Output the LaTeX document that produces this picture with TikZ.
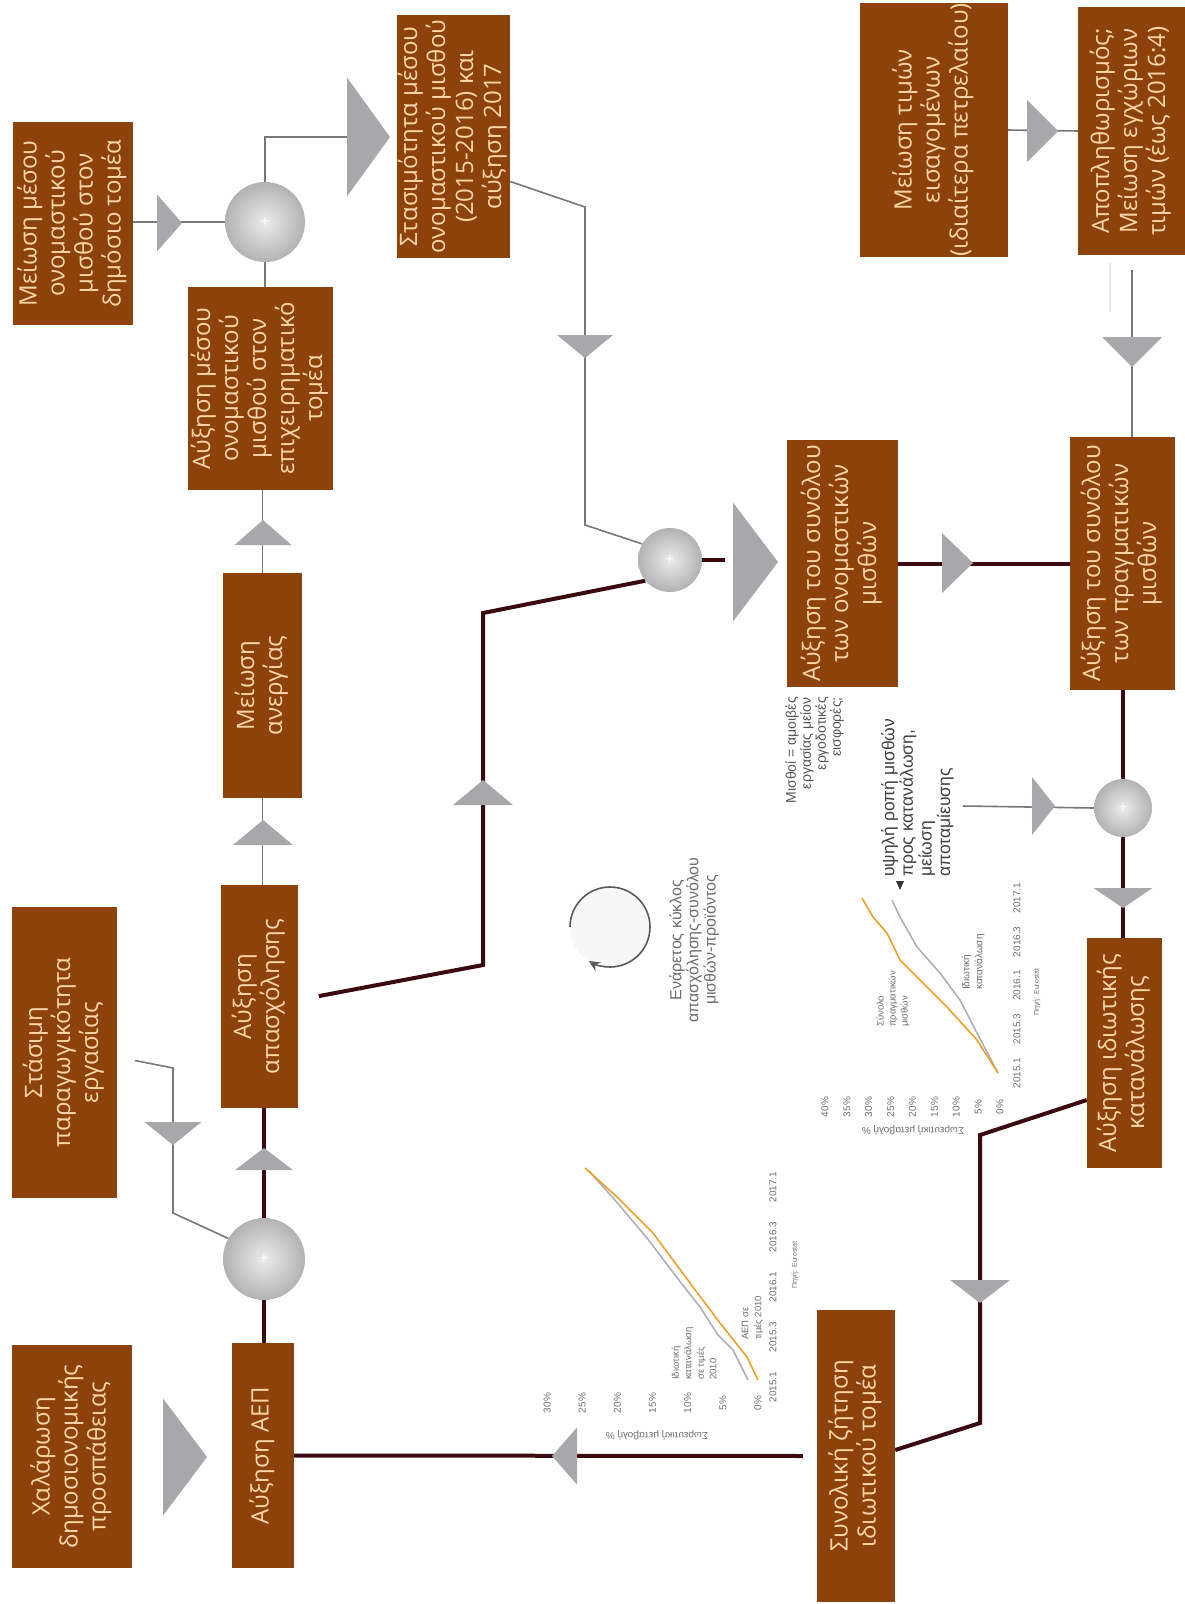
\documentclass[tikz,border=0pt]{standalone}
\usepackage{fontspec}
\usepackage{graphicx}
\setmainfont{Open Sans}
\newfontfamily\notefont{Liberation Sans}
\usetikzlibrary{shapes.geometric,positioning,calc,arrows.meta}
\pgfdeclarelayer{bg}
\pgfsetlayers{bg,main}

\definecolor{boxbrown}{RGB}{140,66,10}
\definecolor{boxtext}{RGB}{252,214,168}
\definecolor{trigray}{RGB}{168,168,170}
\definecolor{linegray}{RGB}{120,120,124}
\definecolor{linedark}{RGB}{58,10,16}
\definecolor{chartorange}{RGB}{240,160,40}
\definecolor{chartgray}{RGB}{172,176,186}
\definecolor{notegray}{RGB}{85,85,85}

\tikzset{
  box/.style={rectangle, fill=boxbrown, text=boxtext, inner sep=0pt,
    font=\fontsize{24}{28}\selectfont},
  sum/.style={circle, inner sep=0pt, shading=radial, inner color=gray!15,
    outer color=gray!60, text=white, font=\fontsize{15}{15}\selectfont},
  tri/.style={isosceles triangle, isosceles triangle stretches, inner sep=0pt,
    outer sep=0pt, fill=trigray, anchor=apex},
  thinline/.style={draw=linegray, line width=1.6pt},
  thickline/.style={draw=linedark, line width=4pt},
  annot/.style={font=\notefont\fontsize{14}{15}\selectfont, text=notegray, inner sep=0pt},
  chartlabel/.style={font=\notefont\fontsize{10}{12}\selectfont, text=gray!85!black, inner sep=0pt},
  wiggle/.style={line width=1.6pt, line join=round},
}
\newcommand{\turned}[2][c]{\rotatebox{90}{\begin{tabular}{@{}#1@{}}#2\end{tabular}}}

\begin{document}
\begin{tikzpicture}[x=1pt, y=-1pt]
\useasboundingbox (0,0) rectangle (1185,1604);

% boxes
\node[box, minimum width=120pt, minimum height=203pt] (pubwage) at (73,223.5) {\turned{Μείωση μέσου\\ονομαστικού\\μισθού στον\\δημόσιο τομέα}};
\node[box, minimum width=145pt, minimum height=203pt] (bizwage) at (260.5,388.5) {\turned{Αύξηση μέσου\\ονομαστικού\\μισθού στον\\επιχειρηματικό\\τομέα}};
\node[box, minimum width=113pt, minimum height=243pt] (stagn) at (453.5,136.5) {\turned{Στασιμότητα μέσου\\ονομαστικού μισθού\\(2015-2016) και\\αύξηση 2017}};
\node[box, minimum width=79pt, minimum height=225pt] (unemp) at (262.5,685.5) {\turned{Μείωση\\ανεργίας}};
\node[box, minimum width=77pt, minimum height=223pt] (employ) at (259.5,996.5) {\turned{Αύξηση\\απασχόλησης}};
\node[box, minimum width=105pt, minimum height=291pt] (prod) at (64.5,1052.5) {\turned{Στάσιμη\\παραγωγικότητα\\εργασίας}};
\node[box, minimum width=62pt, minimum height=225pt] (gdp) at (263,1455.5) {\turned{Αύξηση ΑΕΠ}};
\node[box, minimum width=120pt, minimum height=223pt] (fiscal) at (72,1456.5) {\turned{Χαλάρωση\\δημοσιονομικής\\προσπάθειας}};
\node[box, minimum width=78pt, minimum height=292pt] (demand) at (856,1456) {\turned{Συνολική ζήτηση\\ιδιωτικού τομέα}};
\node[box, minimum width=75pt, minimum height=230pt] (consum) at (1124.5,1053) {\turned{Αύξηση ιδιωτικής\\κατανάλωσης}};
\node[box, minimum width=105pt, minimum height=253pt] (realw) at (1122.5,563.5) {\turned{Αύξηση του συνόλου\\των πραγματικών\\μισθών}};
\node[box, minimum width=111pt, minimum height=247pt] (nomw) at (842.5,563.5) {\turned{Αύξηση του συνόλου\\των ονομαστικών\\μισθών}};
\node[box, minimum width=148pt, minimum height=250pt] (imports) at (934,130) {\turned{Μείωση τιμών\\εισαγομένων\\(ιδιαίτερα πετρελαίου)}};
\node[box, minimum width=107pt, minimum height=248pt] (deflat) at (1131.5,131) {\turned{Αποπληθωρισμός;\\Μείωση εγχώριων\\τιμών (έως 2016:4)}};

% summing points
\node[sum, minimum size=80pt] (s1) at (265,222) {+};
\node[sum, minimum size=64pt] (s2) at (670,560) {+};
\node[sum, minimum size=82pt] (s3) at (264,1259) {+};
\node[sum, minimum size=58pt] (s4) at (1123,808) {+};

% triangles (width = base, height = length to apex)
\node[tri, minimum height=25pt, minimum width=57pt] (t1) at (182,223) {};
\node[tri, minimum height=43pt, minimum width=119pt] (t2) at (390,137) {};
\node[tri, rotate=-90, minimum height=23pt, minimum width=56pt] (t3) at (585,358) {};
\node[tri, minimum height=45pt, minimum width=119pt] (t4) at (778,562) {};
\node[tri, rotate=90, minimum height=25pt, minimum width=60pt] (t5) at (483,780) {};
\node[tri, rotate=90, minimum height=25pt, minimum width=57pt] (t6) at (263,520) {};
\node[tri, rotate=90, minimum height=25pt, minimum width=60pt] (t7) at (263,820) {};
\node[tri, rotate=90, minimum height=22pt, minimum width=58pt] (t8) at (264,1148) {};
\node[tri, rotate=-90, minimum height=23pt, minimum width=57pt] (t9) at (173,1145) {};
\node[tri, minimum height=44pt, minimum width=117pt] (t10) at (207,1457) {};
\node[tri, rotate=180, minimum height=25pt, minimum width=57pt] (t11) at (552,1456) {};
\node[tri, rotate=-90, minimum height=23pt, minimum width=60pt] (t12) at (980,1303) {};
\node[tri, rotate=-90, minimum height=20pt, minimum width=59pt] (t13) at (1123,908) {};
\node[tri, minimum height=23pt, minimum width=58pt] (t14) at (1055,806) {};
\node[tri, minimum height=31pt, minimum width=60pt] (t15) at (973,563) {};
\node[tri, minimum height=31pt, minimum width=62pt] (t16) at (1058,131) {};
\node[tri, rotate=-90, minimum height=30pt, minimum width=60pt] (t17) at (1132,367) {};

% notes
\node[annot, anchor=north west] (wagenote) at (785,697) {\turned[r]{Μισθοί = αμοιβές\\εργασίας μείον\\εργοδοτικές\\εισφορές;}};
\node[annot, anchor=south west, text=black!75, font=\notefont\fontsize{17.5}{18}\selectfont] (propnote) at (881,877) {\turned[l]{υψηλή ροπή μισθών\\προς κατανάλωση,\\μείωση\\αποταμίευσης}};
\coordinate (propout) at (963,806);
\fill[black!80] (896,881) -- (904,881) -- (900,890) -- cycle;

% virtuous cycle
\fill[gray!6] (610,927) circle[radius=40pt];
\draw[gray!70!black, line width=1.6pt, -{Stealth[length=11pt,width=10pt]}] (570,927) arc[start angle=180, end angle=-122, radius=40pt];
\node[annot, text=gray!85!black, font=\notefont\fontsize{16}{17}\selectfont] (cycle) at (695,940) {\turned{Ενάρετος κύκλος\\απασχόλησης-συνόλου\\μισθών-προϊόντος}};

% chart: wages and consumption
\foreach \v in {0,5,...,40}
  \node[chartlabel, rotate=90] at ({1000-4.375*\v},1107) {\v\%};
\foreach \q/\lab in {0/2015.1,1/2015.3,2/2016.1,3/2016.3,4/2017.1}
  \node[chartlabel, rotate=90] at (1017,{1073-43.75*\q}) {\lab};
\node[chartlabel, rotate=180] at (913,1130) {Σωρευτική μεταβολή \%};
\node[chartlabel, rotate=90, font=\notefont\fontsize{7}{8}\selectfont] at (1037,992) {Πηγή: Eurostat};
\draw[wiggle, chartgray] (998,1073) -- (977,1033) -- (960,1000) -- (940,973) -- (917,947) -- (900,917) -- (892,900);
\draw[wiggle, chartorange] (998,1073) -- (977,1040) -- (947,1007) -- (917,977) -- (900,960) -- (887,933) -- (873,917) -- (862,898);
\node[chartlabel, anchor=south west, font=\notefont\fontsize{9.5}{12}\selectfont] at (875,1027) {\turned[l]{Σύνολο\\πραγματικών\\μισθών}};
\node[chartlabel, anchor=south west, font=\notefont\fontsize{10}{13}\selectfont] at (960,990) {\turned[l]{Ιδιωτική\\κατανάλωση}};

% chart: GDP and consumption
\foreach \v in {0,5,...,30}
  \node[chartlabel, rotate=90] at ({758-7.03*\v},1403) {\v\%};
\foreach \q/\lab in {0/2015.1,1/2015.3,2/2016.1,3/2016.3,4/2017.1}
  \node[chartlabel, rotate=90] at (773,{1387-50*\q}) {\lab};
\node[chartlabel, rotate=180] at (657,1435) {Σωρευτική μεταβολή \%};
\node[chartlabel, rotate=90, font=\notefont\fontsize{7}{8}\selectfont] at (795,1265) {Πηγή: Eurostat};
\draw[wiggle, chartgray] (748,1380) -- (733,1350) -- (718,1335) -- (700,1307) -- (675,1275) -- (647,1238) -- (615,1200) -- (588,1170);
\draw[wiggle, chartorange] (758,1380) -- (747,1357) -- (720,1323) -- (693,1287) -- (653,1233) -- (617,1197) -- (585,1168);
\node[chartlabel, anchor=south west, font=\notefont\fontsize{9.5}{12.5}\selectfont] at (670,1380) {\turned[l]{Ιδιωτική\\κατανάλωση\\σε τιμές\\2010}};
\node[chartlabel, anchor=south west, font=\notefont\fontsize{9.5}{13}\selectfont] at (739,1340) {\turned[l]{ΑΕΠ σε\\τιμές 2010}};

% connectors
\begin{pgfonlayer}{bg}
  \draw[thinline] (pubwage.east |- s1) -- (s1.west);
  \draw[thinline] (s1.north) |- (t2.west);
  \draw[thinline] (bizwage.north -| s1) -- (s1.south);
  \draw[thinline] ([yshift=-45pt]stagn.east) -- (585,207) -- (585,525) -- (s2.150);
  \draw[thinline, shorten <=18pt] ([yshift=-4.5pt]prod.east) -- (173,1068) -- (173,1213) -- (s3.150);
  \draw[thinline] (propout) -- (s4.west);
  \draw[thinline] (imports.east) -- (deflat.west);
  \draw[thinline, shorten <=15pt] (deflat.south -| t17) -- (realw.north -| t17);
  \draw[draw=gray!18, line width=1.6pt] (1110,263) -- (1110,312);
  \draw[thinline] (unemp) -- (bizwage.south -| unemp);
  \draw[thinline] (employ.north -| unemp) -- (unemp);

  \draw[thickline] (s3.north) -- (s3.north |- employ.south);
  \draw[thickline] (s3.south) -- (s3.south |- gdp.north);
  \draw[thickline, shorten <=21pt] ([yshift=-3.5pt]employ.east) -- (483,965) -- (483,613) -- (s2.220);
  \draw[thickline] (s2.east) -- (725,560);
  \draw[thickline] (nomw.east) -- (realw.west);
  \draw[thickline] (realw.south -| s4) -- (s4.north);
  \draw[thickline] (s4.south) -- (s4.south |- consum.north);
  \draw[thickline] ([yshift=-47pt]consum.west) -- (980,1135) -- (980,1423) -- ([yshift=6pt]demand.east);
  \draw[thickline, shorten <=14pt] (demand.west) -- (gdp.east);
\end{pgfonlayer}
\end{tikzpicture}
\end{document}
